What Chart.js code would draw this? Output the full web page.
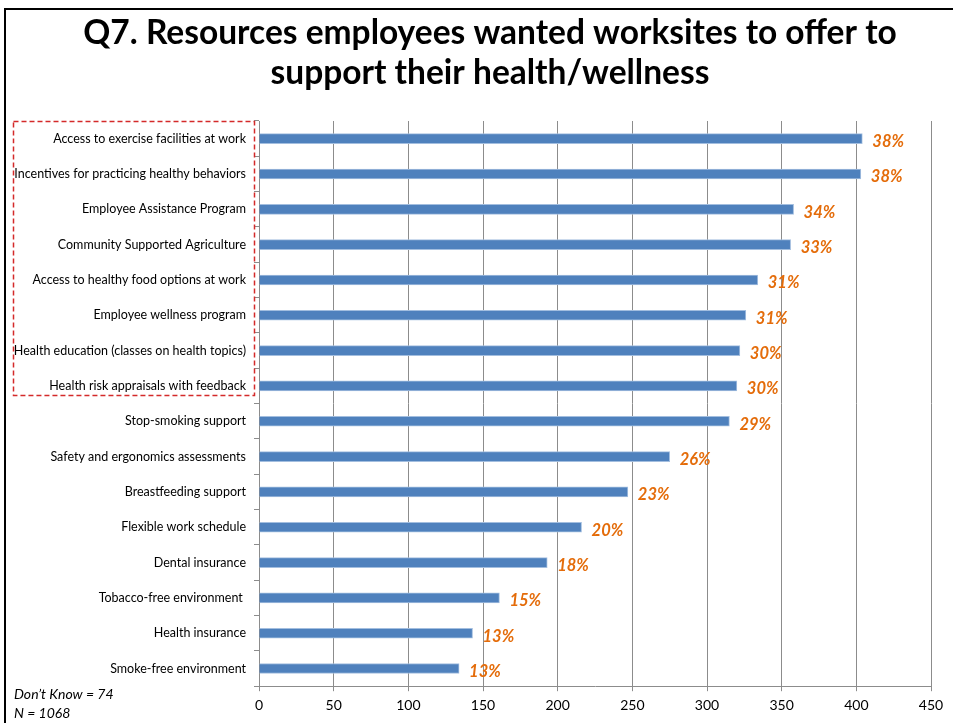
<!DOCTYPE html>
<html>
<head>
<meta charset="utf-8">
<script src="https://cdn.jsdelivr.net/npm/chart.js@4"></script>
<style>
  html, body { margin: 0; padding: 0; background: #fff; }
  canvas { display: block; }
</style>
</head>
<body>
<canvas id="myChart" width="953" height="723"></canvas>
<script>
const titleLines = ['Q7. Resources employees wanted worksites to offer to', 'support their health/wellness'];
const categories = [
	'Access to exercise facilities at work',
	'Incentives for practicing healthy behaviors',
	'Employee Assistance Program',
	'Community Supported Agriculture',
	'Access to healthy food options at work',
	'Employee wellness program',
	'Health education (classes on health topics)',
	'Health risk appraisals with feedback',
	'Stop-smoking support',
	'Safety and ergonomics assessments',
	'Breastfeeding support',
	'Flexible work schedule',
	'Dental insurance',
	'Tobacco-free environment ',
	'Health insurance',
	'Smoke-free environment'
];
const counts = [404, 403, 358, 356, 334, 326, 322, 320, 315, 275, 247, 216, 193, 161, 143, 134];
const respondents = 1068;
const dontKnow = 74;
const xMax = 450;
const xStep = 50;
// the first eight rows get the dashed highlight box
const highlightedRows = 8;

const FONT = 'Lato, "Open Sans", sans-serif';
const ctx = document.getElementById('myChart');

function percentLabel(n) {
	return Math.round(n / respondents * 100) + '%';
}

const decorations = {
	id: 'decorations',
	afterDraw(chart) {
		const c = chart.ctx;
		const yScale = chart.scales.y;
		c.save();

		// outer frame (top and left edges)
		c.strokeStyle = '#000';
		c.lineWidth = 2;
		c.beginPath();
		c.moveTo(953, 9);
		c.lineTo(5, 9);
		c.lineTo(5, 723);
		c.stroke();

		// title
		c.fillStyle = '#000';
		c.textAlign = 'center';
		c.textBaseline = 'middle';
		c.font = 'bold 33.5px ' + FONT;
		c.fillText(titleLines[0], 490, 33);
		c.fillText(titleLines[1], 490, 73);

		// dashed box round the top rows
		const top = yScale.top;
		const bottom = yScale.getPixelForValue(highlightedRows - 1) + 9;
		c.strokeStyle = '#D42A2A';
		c.lineWidth = 1.5;
		c.setLineDash([5, 3]);
		c.strokeRect(13.5, top + 0.5, 241, bottom - top);
		c.setLineDash([]);

		// footnotes
		c.textAlign = 'left';
		c.font = 'italic 14px ' + FONT;
		c.fillText('Don\u2019t Know = ' + dontKnow, 14, 694);
		c.fillText('N = ' + respondents, 14, 713);

		c.restore();
	},
	afterDatasetsDraw(chart) {
		const c = chart.ctx;
		const meta = chart.getDatasetMeta(0);
		c.save();
		c.fillStyle = '#E46C0A';
		c.font = 'italic bold 16.5px ' + FONT;
		c.textAlign = 'left';
		c.textBaseline = 'middle';
		meta.data.forEach((bar, i) => {
			c.fillText(percentLabel(counts[i]), bar.x + 10, bar.y + 3);
		});
		c.restore();
	}
};

new Chart(ctx, {
	type: 'bar',
	data: {
		labels: categories,
		datasets: [{
			data: counts,
			backgroundColor: '#4F81BD',
			borderColor: '#A3BEDF',
			borderWidth: 1,
			barThickness: 10
		}]
	},
	options: {
		indexAxis: 'y',
		responsive: false,
		animation: false,
		layout: {
			padding: { top: 121, left: 10, right: 22, bottom: 3 }
		},
		plugins: {
			legend: { display: false },
			tooltip: { enabled: false }
		},
		scales: {
			x: {
				min: 0,
				max: xMax,
				ticks: {
					stepSize: xStep,
					color: '#000',
					padding: 6,
					font: { family: FONT, size: 14 }
				},
				grid: { color: '#8C8C8C', tickLength: 5 },
				border: { color: '#8C8C8C' }
			},
			y: {
				ticks: {
					color: '#000',
					padding: 8,
					font: { family: FONT, size: 12.5 }
				},
				grid: {
					offset: true,
					drawOnChartArea: false,
					tickLength: 5,
					color: '#8C8C8C'
				},
				border: { color: '#8C8C8C' },
				afterFit(scale) {
					scale.width = 249;
				}
			}
		}
	},
	plugins: [decorations]
});
</script>
</body>
</html>
